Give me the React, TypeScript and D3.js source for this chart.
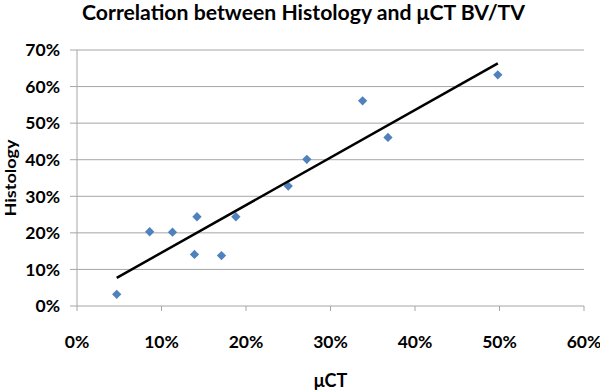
import React from "react";
import * as d3 from "d3";

const microCT = [4.7, 8.6, 11.3, 14.2, 13.9, 17.1, 18.8, 25.0, 27.2, 33.8, 36.8, 49.8];
const histology = [3.2, 20.3, 20.2, 24.4, 14.1, 13.8, 24.4, 32.8, 40.1, 56.1, 46.1, 63.2];
const xTicks = [0, 10, 20, 30, 40, 50, 60];
const yTicks = [0, 10, 20, 30, 40, 50, 60, 70];
const title = "Correlation between Histology and μCT BV/TV";
const xLabel = "μCT";
const yLabel = "Histology";

const W = 600;
const H = 392;
const FONT = "Lato, 'Open Sans', sans-serif";

export default function App() {
  const x = d3.scaleLinear().domain([0, 60]).range([77, 584]);
  const y = d3.scaleLinear().domain([0, 70]).range([306, 50]);

  const n = microCT.length;
  const mx = d3.mean(microCT) as number;
  const my = d3.mean(histology) as number;
  let sxy = 0, sxx = 0;
  for (let i = 0; i < n; i++) {
    sxy += (microCT[i] - mx) * (histology[i] - my);
    sxx += (microCT[i] - mx) ** 2;
  }
  const slope = sxy / sxx;
  const intercept = my - slope * mx;
  const [x0, x1] = d3.extent(microCT) as [number, number];
  const trend = [x0, x1].map((v) => [v, intercept + slope * v] as [number, number]);
  const line = d3.line<[number, number]>().x((d) => x(d[0])).y((d) => y(d[1]));
  const diamond = d3.symbol().type(d3.symbolDiamond2).size(55)();

  return (
    <svg width={W} height={H} style={{ position: "absolute", left: 0, top: 0, background: "#fff" }}>
      <text x={82} y={20} textLength={443} lengthAdjust="spacingAndGlyphs" fontFamily={FONT} fontWeight="bold" fontSize={20.5} fill="#000">
        {title}
      </text>
      {yTicks.map((t) => (
        <g key={"y" + t}>
          <line x1={x(0)} x2={x(60)} y1={y(t)} y2={y(t)} stroke="#a6a6a6" strokeWidth={1} />
          <line x1={x(0) - 7} x2={x(0)} y1={y(t)} y2={y(t)} stroke="#a6a6a6" strokeWidth={1} />
          <text x={60} y={y(t)} dy="0.36em" textAnchor="end" fontFamily={FONT} fontWeight="bold" fontSize={17.5} fill="#000">
            {t}%
          </text>
        </g>
      ))}
      <line x1={x(0)} x2={x(0)} y1={y(70)} y2={y(0)} stroke="#a6a6a6" strokeWidth={1} />
      {xTicks.map((t) => (
        <g key={"x" + t}>
          <line x1={x(t)} x2={x(t)} y1={y(0)} y2={y(0) + 5} stroke="#a6a6a6" strokeWidth={1} />
          <text x={x(t)} y={348} textAnchor="middle" fontFamily={FONT} fontWeight="bold" fontSize={17.5} fill="#000">
            {t}%
          </text>
        </g>
      ))}
      {microCT.map((v, i) => (
        <path key={"p" + i} d={diamond as string} transform={`translate(${x(v)},${y(histology[i])})`} fill="#4f81bd" />
      ))}
      <path d={line(trend) as string} fill="none" stroke="#000" strokeWidth={2.5} />
      <text x={x(30)} y={387} textAnchor="middle" fontFamily={FONT} fontWeight="bold" fontSize={18} fill="#000">
        {xLabel}
      </text>
      <text transform={`translate(16,178) rotate(-90)`} textAnchor="middle" textLength={77} lengthAdjust="spacingAndGlyphs" fontFamily={FONT} fontWeight="bold" fontSize={16} fill="#000">
        {yLabel}
      </text>
    </svg>
  );
}
